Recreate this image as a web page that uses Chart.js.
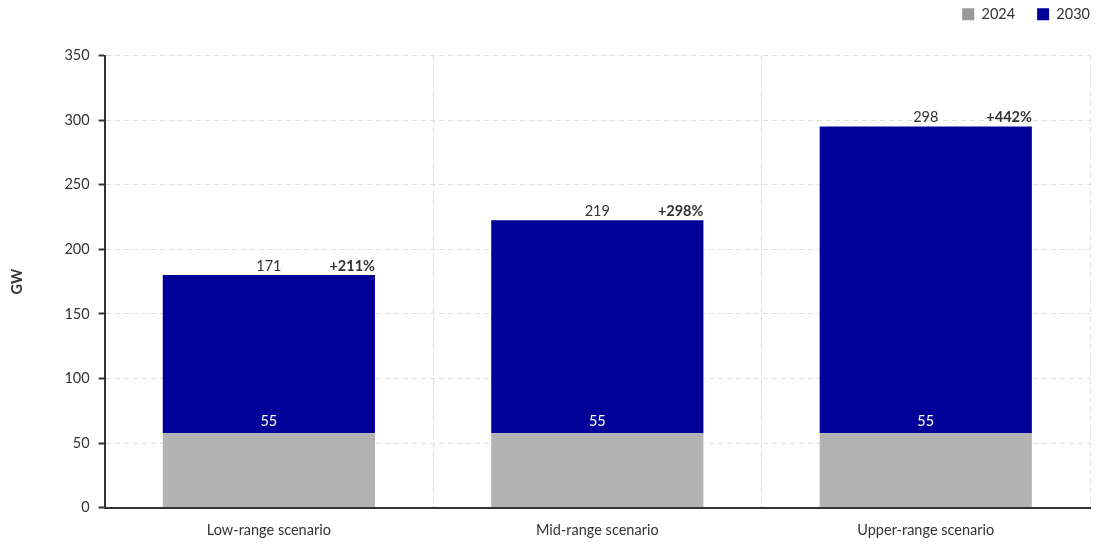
<!DOCTYPE html>
<html>
<head>
<meta charset="utf-8">
<script src="https://cdn.jsdelivr.net/npm/chart.js@4/dist/chart.umd.min.js"></script>
<style>
  html, body { margin: 0; padding: 0; background: #fff; }
  #wrap { width: 1106px; height: 549px; position: relative; }
</style>
</head>
<body>
<div id="wrap"><canvas id="gwChart"></canvas></div>
<script>
// data
var categories = ["Low-range scenario", "Mid-range scenario", "Upper-range scenario"];
var seriesNames = ["2024", "2030"];
var base2024 = [57.5, 57.5, 57.5];          // drawn height of the grey segment
var added2030 = [122.5, 165, 237.5];        // drawn height of the blue segment on top
var labels2024 = ["55", "55", "55"];
var totals2030 = ["171", "219", "298"];
var growth = ["+211%", "+298%", "+442%"];
var yTicks = [0, 50, 100, 150, 200, 250, 300, 350];

var FONT = "Lato, 'Noto Sans', sans-serif";
var FS = 14.5;
var TEXT = "#333333";
var GREY = "#b3b3b3";
var GREY_KEY = "#999999";
var BLUE = "#000099";

/*------------------------------------
* Value labels
------------------------------------ */
var barLabels = {
  id: "barLabels",
  afterDatasetsDraw: function (chart) {
    var ctx = chart.ctx;
    var lower = chart.getDatasetMeta(0).data;
    var upper = chart.getDatasetMeta(1).data;
    ctx.save();
    for (var i = 0; i < categories.length; i++) {
      var b = lower[i], t = upper[i];
      var half = t.width / 2;

      ctx.font = FS + "px " + FONT;
      ctx.textAlign = "center";
      ctx.textBaseline = "bottom";
      ctx.fillStyle = "#ffffff";
      ctx.fillText(labels2024[i], b.x, b.y - 5);

      ctx.fillStyle = TEXT;
      ctx.fillText(totals2030[i], t.x, t.y - 2);

      ctx.font = "bold " + FS + "px " + FONT;
      ctx.textAlign = "right";
      ctx.fillText(growth[i], t.x + half, t.y - 2);
    }
    ctx.restore();
  }
};

// room under the legend, and legend pushed flush right
var legendSpace = {
  id: "legendSpace",
  beforeInit: function (chart) {
    var fit = chart.legend.fit;
    chart.legend.fit = function () {
      fit.call(this);
      this.height += 24;
    };
  },
  afterLayout: function (chart) {
    chart.legend.right += 22;
    chart.legend.left += 22;
  }
};

var chartGW = new Chart(document.getElementById("gwChart"), {
  type: "bar",
  data: {
    labels: categories,
    datasets: [
      {
        label: seriesNames[0],
        data: base2024,
        backgroundColor: GREY,
        borderWidth: 0,
      },
      {
        label: seriesNames[1],
        data: added2030,
        backgroundColor: BLUE,
        borderWidth: 0,
      },
    ],
  },
  options: {
    responsive: true,
    maintainAspectRatio: false,
    animation: false,
    layout: { padding: { left: 9, right: 16, top: -15, bottom: -4 } },
    datasets: {
      bar: { barPercentage: 0.646, categoryPercentage: 1 },
    },
    plugins: {
      tooltip: { enabled: false },
      legend: {
        position: "top",
        align: "end",
        labels: {
          font: { family: FONT, size: FS },
          color: TEXT,
          boxWidth: 12,
          boxHeight: 12,
          padding: 22,
          generateLabels: function (chart) {
            return seriesNames.map(function (name, i) {
              return {
                text: name,
                fillStyle: i === 0 ? GREY_KEY : BLUE,
                strokeStyle: "transparent",
                lineWidth: 0,
                fontColor: TEXT,
                datasetIndex: i,
              };
            });
          },
        },
      },
    },
    scales: {
      x: {
        stacked: true,
        grid: {
          offset: true,
          color: "#dddddd",
          lineWidth: 1,
          drawTicks: false,
        },
        border: { display: true, color: TEXT, width: 2, dash: [5, 4] },
        ticks: {
          color: TEXT,
          font: { family: FONT, size: FS },
          padding: 14,
        },
      },
      y: {
        stacked: true,
        min: 0,
        max: 350,
        afterBuildTicks: function (axis) {
          axis.ticks = yTicks.map(function (v) { return { value: v }; });
        },
        grid: {
          color: "#dddddd",
          lineWidth: 1,
          drawTicks: true,
          tickLength: 6,
          tickColor: TEXT,
          tickWidth: 2,
          tickBorderDash: [],
        },
        border: { display: true, color: TEXT, width: 2, dash: [5, 4] },
        title: {
          display: true,
          text: "GW",
          color: TEXT,
          font: { family: FONT, size: FS, weight: "bold" },
          padding: { top: 0, bottom: 29 },
        },
        ticks: {
          color: TEXT,
          font: { family: FONT, size: FS },
          padding: 9,
        },
      },
    },
  },
  plugins: [barLabels, legendSpace],
});
</script>
</body>
</html>
